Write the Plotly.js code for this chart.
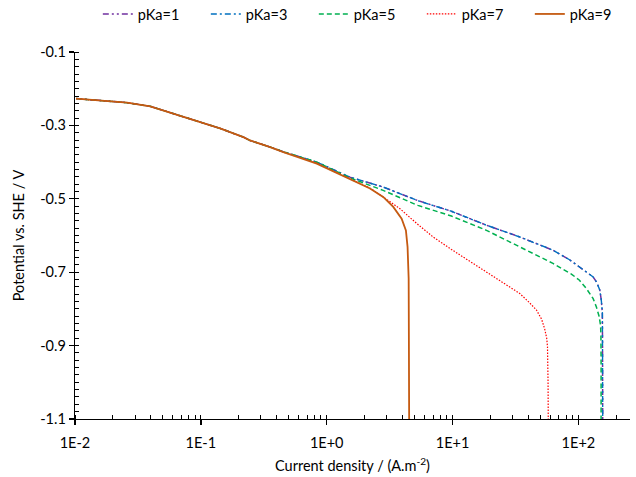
<!DOCTYPE html>
<html>
<head>
<meta charset="utf-8">
<script src="https://cdn.plot.ly/plotly-3.0.1.min.js"></script>
<style>html,body{margin:0;padding:0;background:#fff;}#chart{width:636px;height:477px;}</style>
</head>
<body>
<div id="chart"></div>
<script>
// Series names
var seriesNames = ["pKa=1", "pKa=3", "pKa=5", "pKa=7", "pKa=9"];

// Current density (A/m2) and potential (V vs SHE)
var i_pKa1 = [0.0102,0.0168,0.0259,0.0396,0.057,0.0778,0.105,0.142,0.218,0.246,0.355,0.453,0.834,1.53,2.81,5.3,9.8,18.6,34.2,62.8,85,102,118,131,140,148,152,155,155.5,156];
var E_pKa1 = [-0.227,-0.232,-0.238,-0.248,-0.265,-0.280,-0.294,-0.308,-0.332,-0.341,-0.359,-0.372,-0.400,-0.441,-0.468,-0.505,-0.534,-0.572,-0.604,-0.640,-0.666,-0.686,-0.700,-0.713,-0.728,-0.749,-0.776,-0.81,-0.9,-1.1];

var i_pKa3 = [0.0102,0.0168,0.0259,0.0396,0.057,0.0778,0.105,0.142,0.218,0.246,0.355,0.453,0.834,1.53,2.81,5.3,9.8,18.6,34.2,62.8,85,102,118,131,140,148,152,155,155.5,156];
var E_pKa3 = [-0.227,-0.232,-0.238,-0.248,-0.265,-0.280,-0.294,-0.308,-0.332,-0.341,-0.359,-0.372,-0.400,-0.441,-0.468,-0.505,-0.534,-0.572,-0.604,-0.640,-0.666,-0.686,-0.700,-0.713,-0.728,-0.749,-0.776,-0.81,-0.9,-1.1];

var i_pKa5 = [0.0102,0.0168,0.0259,0.0396,0.057,0.0778,0.105,0.142,0.218,0.246,0.355,0.453,0.834,1.53,2.81,5.3,9.8,18.6,34.2,62.8,88,102,116,131,139,146,150,151,151.5,151.5];
var E_pKa5 = [-0.227,-0.232,-0.238,-0.248,-0.265,-0.280,-0.294,-0.308,-0.332,-0.341,-0.359,-0.372,-0.400,-0.443,-0.477,-0.518,-0.547,-0.586,-0.631,-0.676,-0.705,-0.722,-0.745,-0.772,-0.795,-0.82,-0.845,-0.87,-0.95,-1.1];

var i_pKa7 = [0.0102,0.0168,0.0259,0.0396,0.057,0.0778,0.105,0.142,0.218,0.246,0.355,0.453,0.834,1.53,2.21,2.81,3.82,5.18,7.01,9.8,18.6,23.0,28.5,34.2,40,46.4,51,54.0,56.0,56.8,57.4,57.6];
var E_pKa7 = [-0.227,-0.232,-0.238,-0.248,-0.265,-0.280,-0.294,-0.308,-0.332,-0.341,-0.359,-0.373,-0.403,-0.444,-0.471,-0.495,-0.527,-0.567,-0.604,-0.638,-0.699,-0.720,-0.740,-0.758,-0.780,-0.803,-0.828,-0.855,-0.880,-0.903,-1.0,-1.1];

var i_pKa9 = [0.0102,0.0168,0.0259,0.0396,0.057,0.0778,0.105,0.142,0.218,0.246,0.355,0.453,0.834,1.53,2.21,2.81,3.38,3.94,4.26,4.39,4.48,4.50,4.52];
var E_pKa9 = [-0.227,-0.232,-0.238,-0.248,-0.265,-0.280,-0.294,-0.308,-0.332,-0.341,-0.359,-0.373,-0.404,-0.445,-0.472,-0.495,-0.522,-0.554,-0.586,-0.631,-0.717,-0.9,-1.1];

// Axis ticks
var xTickVals = [0.01, 0.1, 1, 10, 100];
var xTickText = ["1E-2", "1E-1", "1E+0", "1E+1", "1E+2"];
var yTickVals = [-1.1, -0.9, -0.7, -0.5, -0.3, -0.1];
var yTickText = ["-1.1", "-0.9", "-0.7", "-0.5", "-0.3", "-0.1"];

var xs = [i_pKa1, i_pKa3, i_pKa5, i_pKa7, i_pKa9];
var ys = [E_pKa1, E_pKa3, E_pKa5, E_pKa7, E_pKa9];
var colors = ["#7030A0", "#0070C0", "#00B050", "#FF0000", "#C55A11"];
var dashes = ["6px,3px,2px,3px,2px,3px", "6px,3px,2px,3px", "5px,3px", "1.5px,1.5px", "solid"];
var widths = [1.5, 1.4, 1.5, 1.2, 1.8];

var traces = [];
for (var k = 0; k < seriesNames.length; k++) {
  traces.push({
    x: xs[k], y: ys[k], name: seriesNames[k], type: "scatter", mode: "lines",
    line: {color: colors[k], dash: dashes[k], width: widths[k]},
    hoverinfo: "skip"
  });
}

var fnt = {family: "Lato, 'Liberation Sans', sans-serif", size: 14.5, color: "#000"};
var layout = {
  width: 636, height: 477,
  margin: {l: 74.7, r: 6, t: 51.5, b: 58, pad: 0},
  paper_bgcolor: "#fff", plot_bgcolor: "#fff",
  font: fnt,
  showlegend: true,
  legend: {orientation: "h", xref: "container", yref: "container", x: 0.1538, xanchor: "left", y: 0.9706, yanchor: "middle",
           font: fnt, entrywidth: 63, entrywidthmode: "pixels", bgcolor: "rgba(0,0,0,0)", traceorder: "normal"},
  xaxis: {
    type: "log", range: [-2, 2.41], tickvals: xTickVals, ticktext: xTickText,
    showgrid: false, zeroline: false, showline: true, linecolor: "#000", linewidth: 1.3,
    ticks: "outside", ticklen: 5, tickcolor: "#000", tickwidth: 1.3, ticklabelstandoff: 5,
    minor: {ticks: "inside", ticklen: 4, tickcolor: "#000", tickwidth: 1, dtick: "D1", showgrid: false},
    tickfont: fnt,
    title: {text: "Current density / (A.m<sup>-2</sup>)", font: fnt, standoff: 11}
  },
  yaxis: {
    range: [-1.1, -0.1], tickvals: yTickVals, ticktext: yTickText,
    showgrid: false, zeroline: false, showline: true, linecolor: "#000", linewidth: 1.3,
    ticks: "outside", ticklen: 5, tickcolor: "#000", tickwidth: 1.3,
    minor: {ticks: "inside", ticklen: 4, tickcolor: "#000", tickwidth: 1, dtick: 0.02, showgrid: false},
    tickfont: fnt,
    title: {text: "Potential vs. SHE / V", font: fnt, standoff: 12}
  }
};

Plotly.newPlot("chart", traces, layout, {displayModeBar: false, staticPlot: true});
</script>
</body>
</html>
